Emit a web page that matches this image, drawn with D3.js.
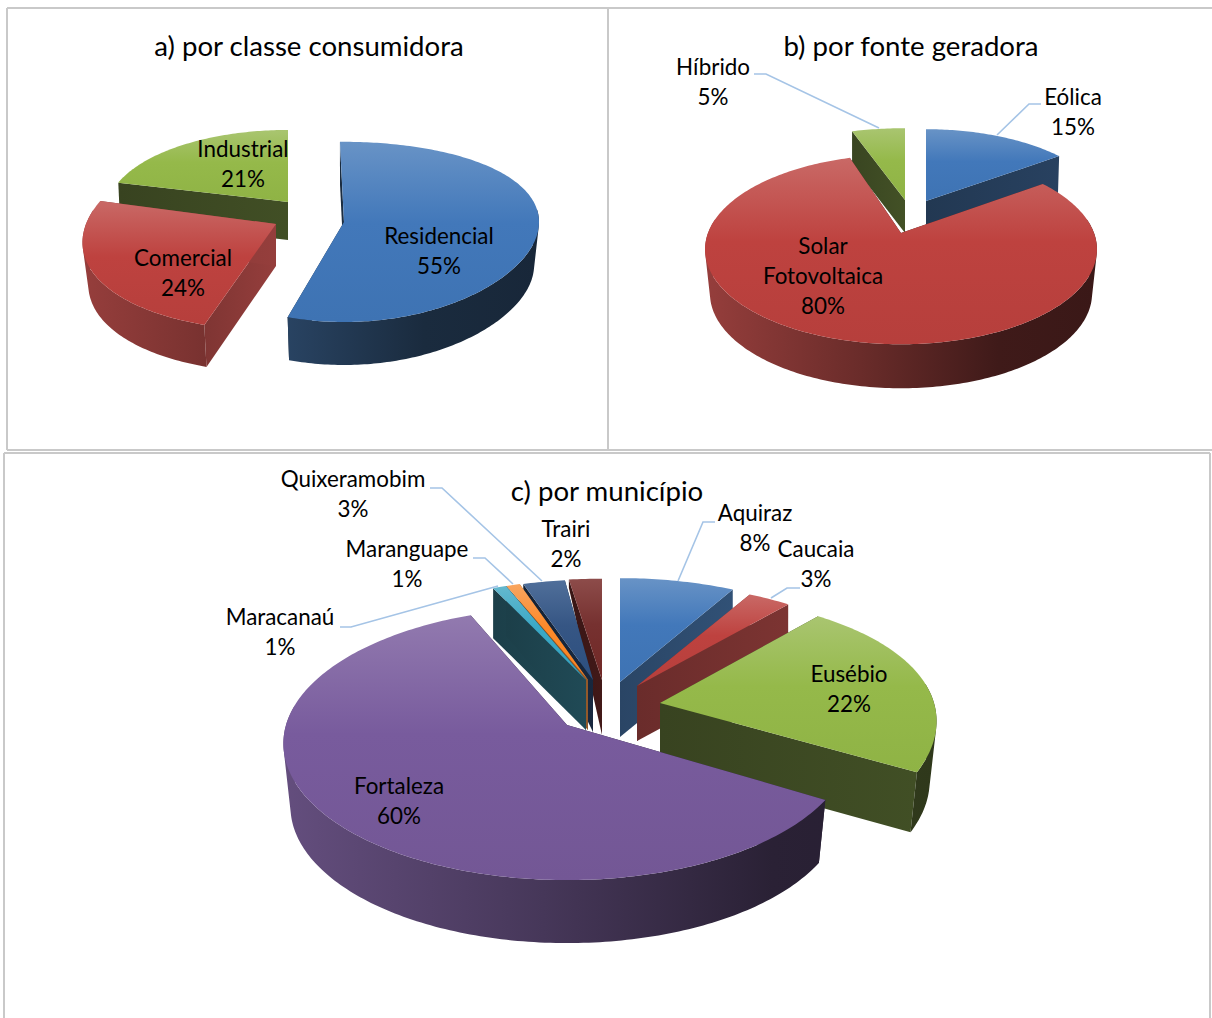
<!DOCTYPE html>
<html lang="pt">
<head>
<meta charset="utf-8">
<title>Geração distribuída: por classe, fonte e município</title>
<script src="https://cdn.jsdelivr.net/npm/d3@7/dist/d3.min.js"></script>
<style>
  html, body { margin: 0; padding: 0; background: #fff; overflow: hidden; }
  svg { display: block; }
  text { font-family: Lato, "Open Sans", sans-serif; fill: #000; text-anchor: middle; }
</style>
</head>
<body>
<svg id="chart" width="1212" height="1018"></svg>
<script>
// Values of each pie, in clockwise order from twelve o'clock
const classeNames = ["Residencial", "Comercial", "Industrial"];
const classeValues = [55, 24, 21];
const fonteNames = ["Eólica", "Solar Fotovoltaica", "Híbrido"];
const fonteValues = [15, 80, 5];
const municipioNames = ["Aquiraz", "Caucaia", "Eusébio", "Fortaleza", "Maracanaú", "Maranguape", "Quixeramobim", "Trairi"];
const municipioValues = [8, 3, 22, 60, 1, 1, 3, 2];

const palette = {
  blue: "#4f81bd", red: "#c0504d", green: "#9bbb59", purple: "#8064a2",
  teal: "#4bacc6", orange: "#f79646", navy: "#34588a", maroon: "#7a2f2d"
};

// Projected geometry per slice: apex, radii, perspective (k vertical, kx horizontal),
// thickness, side-wall tone, paint layer
const classeGeometry = [
  { color: "blue", ax: 344, ay: 222, rx: 195, ry: 89, k: .11, kx: 0, d: 43, s: .975, tone: .35, layer: 1, rot: -1.2 },
  { color: "red", ax: 276, ay: 224, rx: 190, ry: 95, k: .11, kx: .19, d: 42, s: .97, tone: .72, layer: 2 },
  { color: "green", ax: 288, ay: 202, rx: 180, ry: 80, k: .11, d: 38, s: .99, tone: .39, layer: 0 }
];
const fonteGeometry = [
  { color: "blue", ax: 926, ay: 201, rx: 181, ry: 84, k: .17, d: 44, s: .99, tone: .47, layer: 0 },
  { color: "red", ax: 901, ay: 233, rx: 193, ry: 92, k: .173, d: 44, s: .975, tone: .4, layer: 2 },
  { color: "green", ax: 905, ay: 200, rx: 199, ry: 84, k: .17, d: 33, s: 1, tone: .4, layer: 1 }
];
const municipioGeometry = [
  { color: "blue", ax: 620, ay: 682, rx: 262, ry: 118, k: .136, d: 55, s: 1, tone: .58, layer: 4 },
  { color: "red", ax: 637, ay: 686, rx: 262, ry: 117, k: .136, d: 55, s: 1, tone: .6, layer: 5 },
  { color: "green", ax: 660, ay: 703, rx: 274, ry: 130, k: .2, kx: .136, d: 60, s: .975, tone: .39, layer: 6 },
  { color: "purple", ax: 567, ay: 725, rx: 281, ry: 134, k: .136, d: 63, s: .975, tone: .35, layer: 7, rot: 2.5 },
  { color: "teal", ax: 586, ay: 680, rx: 245, ry: 114, k: .136, d: 50, s: 1, tone: .4, layer: 3 },
  { color: "orange", ax: 588, ay: 680, rx: 250, ry: 114, k: .136, d: 50, s: 1, tone: .55, layer: 2 },
  { color: "navy", ax: 593, ay: 680, rx: 255, ry: 114, k: .136, d: 52, s: 1, tone: .42, rimDepth: .1, layer: 1 },
  { color: "maroon", ax: 602, ay: 680, rx: 300, ry: 115, k: .136, d: 55, s: 1, tone: .5, rimDepth: .15, layer: 0 }
];

// Text and leader-line placement
const classeLabels = [
  { x: 439, y: 236, lines: ["Residencial"] },
  { x: 183, y: 258, lines: ["Comercial"] },
  { x: 243, y: 149, lines: ["Industrial"] }
];
const fonteLabels = [
  { x: 1073, y: 97, lines: ["Eólica"], leader: [[1041, 104], [1029, 104], [997, 135]] },
  { x: 823, y: 246, lines: ["Solar", "Fotovoltaica"] },
  { x: 713, y: 67, lines: ["Híbrido"], leader: [[754, 74], [766, 74], [879, 128]] }
];
const municipioLabels = [
  { x: 755, y: 513, lines: ["Aquiraz"], leader: [[715, 522], [703, 522], [678, 581]] },
  { x: 816, y: 549, lines: ["Caucaia"], leader: [[800, 588], [787, 588], [771, 598]] },
  { x: 849, y: 674, lines: ["Eusébio"] },
  { x: 399, y: 786, lines: ["Fortaleza"] },
  { x: 280, y: 617, lines: ["Maracanaú"], leader: [[340, 627], [351, 627], [498, 586]] },
  { x: 407, y: 549, lines: ["Maranguape"], leader: [[473, 558], [485, 558], [513, 584]] },
  { x: 353, y: 479, lines: ["Quixeramobim"], leader: [[430, 488], [442, 488], [542, 581]] },
  { x: 566, y: 529, lines: ["Trairi"] }
];

const charts = [
  { title: "a) por classe consumidora", tx: 309, ty: 47, names: classeNames, values: classeValues, geometry: classeGeometry, labels: classeLabels, span: [83, 538] },
  { title: "b) por fonte geradora", tx: 911, ty: 47, names: fonteNames, values: fonteValues, geometry: fonteGeometry, labels: fonteLabels, span: [704, 1096] },
  { title: "c) por município", tx: 607, ty: 492, names: municipioNames, values: municipioValues, geometry: municipioGeometry, labels: municipioLabels, span: [282, 936] }
];

const svg = d3.select("#chart");
const defs = svg.append("defs");
const lineGen = d3.line();
const LABEL_SIZE = 22.4, TITLE_SIZE = 27.6, LINE_STEP = 30;

// Panel frames
const frames = [
  [7, 8, 1212, 8], [7, 8, 7, 450], [608, 8, 608, 450], [7, 450, 1212, 450],
  [4, 453, 1210, 453], [4, 453, 4, 1018], [1210, 453, 1210, 1018]
];
svg.append("g").selectAll("line").data(frames).join("line")
  .attr("x1", d => d[0]).attr("y1", d => d[1]).attr("x2", d => d[2]).attr("y2", d => d[3])
  .attr("stroke", "#c9c9c9").attr("stroke-width", 2);

function shade(color, f) {
  const c = d3.rgb(color);
  return d3.rgb(c.r * f, c.g * f, c.b * f).formatHex();
}

function deepen(color) {
  const c = d3.hsl(color);
  c.s *= 1.06;
  c.l *= .9;
  return c.formatHex();
}

let gradientId = 0;
function gradient(stops, attrs) {
  const id = "g" + (gradientId++);
  const g = defs.append("linearGradient").attr("id", id);
  Object.entries(attrs).forEach(([k, v]) => g.attr(k, v));
  stops.forEach(([o, c]) => g.append("stop").attr("offset", o).attr("stop-color", c));
  return `url(#${id})`;
}

// Quad with positive signed area, so overlapping quads in one path never cancel out
function orientedQuad(pts) {
  return lineGen(d3.polygonArea(pts) < 0 ? pts.slice().reverse() : pts) + "Z";
}

charts.forEach(chart => {
  const g = svg.append("g");
  const arcs = d3.pie().sort(null).value(d => d)(chart.values);
  const slices = arcs.map((a, i) => ({ arc: a, geo: chart.geometry[i], name: chart.names[i] }))
    .sort((p, q) => p.geo.layer - q.geo.layer);

  slices.forEach(({ arc, geo }) => {
    const base = palette[geo.color];
    const rot = (geo.rot || 0) * Math.PI / 180;
    const kx = geo.kx === undefined ? geo.k : geo.kx;
    const rim = t => {
      const u = Math.sin(t + rot), v = -Math.cos(t + rot);
      return [geo.ax + geo.rx * u / (1 - kx * v), geo.ay + geo.ry * v / (1 - geo.k * v)];
    };
    const below = (p, f = 1) => [geo.ax + (p[0] - geo.ax) * geo.s, p[1] + geo.d * f];
    const apex = [geo.ax, geo.ay];
    const steps = Math.max(4, Math.ceil((arc.endAngle - arc.startAngle) * 180 / Math.PI));
    const angles = d3.range(steps + 1).map(i => arc.startAngle + (arc.endAngle - arc.startAngle) * i / steps);
    const rimPts = angles.map(rim);
    const first = rimPts[0], last = rimPts[steps];
    const rf = geo.rimDepth === undefined ? 1 : geo.rimDepth;

    // Straight cut walls
    [first, last].forEach(p => {
      g.append("path")
        .attr("d", lineGen([p, apex, below(apex), below(p, rf)]) + "Z")
        .attr("fill", gradient(
          [[0, shade(base, geo.tone * .92)], [1, shade(base, geo.tone * 1.08)]],
          { gradientUnits: "objectBoundingBox", x1: 0, y1: 0, x2: 1, y2: 0 }));
    });

    // Curved outer wall: only the part of the rim turned towards the viewer,
    // shaded across the width of the whole pie
    const quads = d3.range(steps)
      .filter(i => -Math.cos((angles[i] + angles[i + 1]) / 2 + rot) > -.15)
      .map(i => orientedQuad([rimPts[i], rimPts[i + 1], below(rimPts[i + 1], rf), below(rimPts[i], rf)]));
    if (quads.length) {
      g.append("path")
        .attr("d", quads.join(""))
        .attr("fill", gradient(
          [[0, shade(base, .78)], [.4, shade(base, .55)], [.75, shade(base, .33)], [1, shade(base, .3)]],
          { gradientUnits: "userSpaceOnUse", x1: chart.span[0], y1: 0, x2: chart.span[1], y2: 0 }));
    }

    // Top face
    g.append("path")
      .attr("d", lineGen([apex].concat(rimPts)) + "Z")
      .attr("fill", gradient(
        [[0, d3.interpolateRgb(base, "#fff")(.14)], [.45, deepen(d3.interpolateRgb(base, "#fff")(.05))], [1, deepen(base)]],
        { gradientUnits: "objectBoundingBox", x1: 0, y1: 0, x2: 0, y2: 1 }));
  });

  // Leader lines
  g.append("g").selectAll("path").data(chart.labels.filter(l => l.leader)).join("path")
    .attr("d", l => lineGen(l.leader))
    .attr("fill", "none").attr("stroke", "#a5c4e6").attr("stroke-width", 1.6);

  // Data labels: category name, then its percentage
  chart.labels.forEach((l, i) => {
    const rows = l.lines.concat([chart.values[i] + "%"]);
    g.append("g").selectAll("text").data(rows).join("text")
      .attr("x", l.x)
      .attr("y", (r, j) => l.y + j * LINE_STEP + 7.5)
      .attr("font-size", LABEL_SIZE)
      .text(r => r);
  });

  g.append("text")
    .attr("x", chart.tx).attr("y", chart.ty + 9)
    .attr("font-size", TITLE_SIZE)
    .text(chart.title);
});
</script>
</body>
</html>
